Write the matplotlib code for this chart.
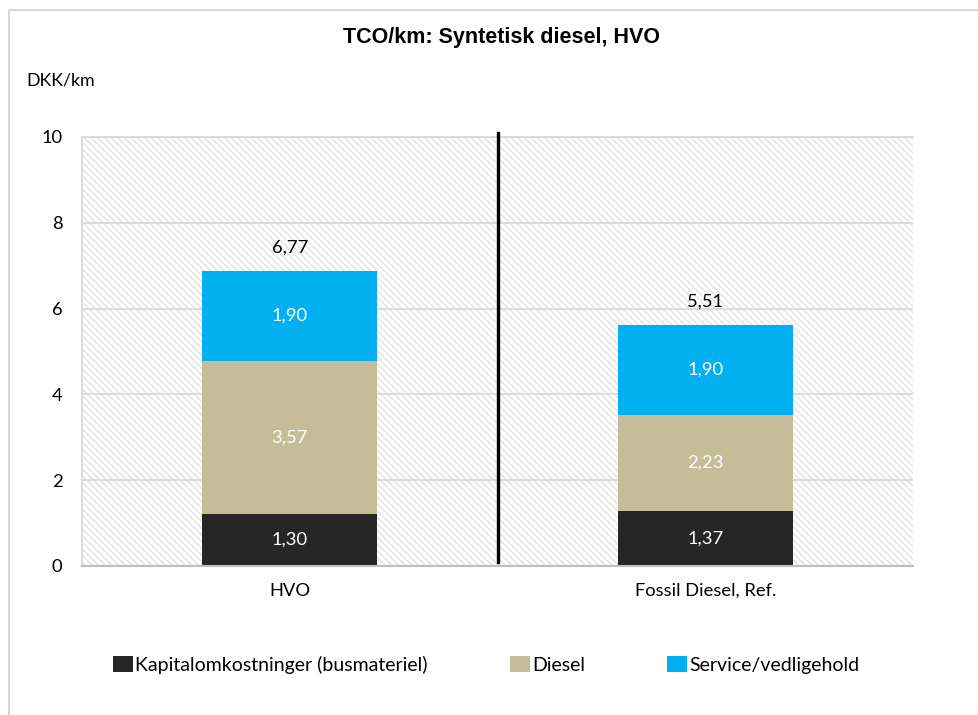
import matplotlib
matplotlib.use("Agg")
import matplotlib.pyplot as plt
from matplotlib.patches import Rectangle
from matplotlib.lines import Line2D
import numpy as np

# ---- data ----
categories = ["HVO", "Fossil Diesel, Ref."]
series_names = ["Kapitalomkostninger (busmateriel)", "Diesel", "Service/vedligehold"]
capital = [1.21, 1.28]        # drawn heights
diesel = [3.57, 2.24]
service = [2.10, 2.10]
capital_labels = [1.30, 1.37]  # printed values
diesel_labels = [3.57, 2.23]
service_labels = [1.90, 1.90]
total_labels = [6.77, 5.51]
yticks = [0, 2, 4, 6, 8, 10]

colors = ["#262626", "#c4bd97", "#00b0f0"]

plt.rcParams["hatch.linewidth"] = 1.2
FONT = "Lato"

W, H = 979, 715
fig = plt.figure(figsize=(W / 100, H / 100), dpi=100)
ax = fig.add_axes([82 / W, 1 - 566 / H, (913 - 82) / W, (566 - 137) / H])

# hatched background
bg = Rectangle((0, 0), 1, 1, transform=ax.transAxes, facecolor="white",
               edgecolor="#e6e6e6", hatch="\\\\\\\\\\", lw=0, zorder=0)
ax.add_patch(bg)
ax.patch.set_visible(False)

x = np.arange(len(categories))
width = 0.42
bottoms = np.zeros(len(categories))
values = [capital, diesel, service]
labels = [capital_labels, diesel_labels, service_labels]
for vals, labs, c, name in zip(values, labels, colors, series_names):
    vals = np.array(vals)
    ax.bar(x, vals, width, bottom=bottoms, color=c, label=name, zorder=2)
    for xi, b, v, lab in zip(x, bottoms, vals, labs):
        ax.text(xi, b + v / 2, f"{lab:.2f}".replace(".", ","), ha="center",
                va="center", color="white", fontsize=13.2, family=FONT, zorder=3)
    bottoms = bottoms + vals

for xi, top, lab in zip(x, bottoms, total_labels):
    ax.annotate(f"{lab:.2f}".replace(".", ","), (xi, top), xytext=(0, 17),
                textcoords="offset points", ha="center", va="center",
                fontsize=13.2, family=FONT, color="black")

# divider
ax.axvline(0.5, ymin=0.01, ymax=1.01, color="black", lw=2.4, clip_on=False, zorder=4)

ax.set_xlim(-0.5, 1.5)
ax.set_ylim(0, 10)
ax.set_yticks(yticks)
ax.set_yticklabels([str(t) for t in yticks])
ax.set_xticks(x)
ax.set_xticklabels(categories)
ax.tick_params(axis="both", length=0, labelsize=13.2)
ax.tick_params(axis="y", pad=14)
ax.tick_params(axis="x", pad=12)
for lbl in ax.get_xticklabels() + ax.get_yticklabels():
    lbl.set_family(FONT)

ax.set_axisbelow(True)
ax.yaxis.grid(True, color="#d9d9d9", lw=1.3, zorder=1)
ax.spines["right"].set_visible(False)
ax.spines["top"].set_color("#d9d9d9")
ax.spines["left"].set_color("#d9d9d9")
ax.spines["left"].set_linewidth(1.3)
ax.spines["top"].set_linewidth(1.3)
ax.spines["bottom"].set_color("#bfbfbf")
ax.spines["bottom"].set_linewidth(1.5)

# texts
fig.text(502 / W, 1 - 37 / H, "TCO/km: Syntetisk diesel, HVO", ha="center",
         va="center", fontsize=15.5, fontweight="bold", family="Liberation Sans")
fig.text(26 / W, 1 - 80 / H, "DKK/km", ha="left", va="center", fontsize=12.8,
         family=FONT)

# outer frame (left and top)
fig.add_artist(Line2D([9 / W, 9 / W], [1 - 10 / H, 0], transform=fig.transFigure,
                      color="#d9d9d9", lw=1.5))
fig.add_artist(Line2D([9 / W, 1], [1 - 10 / H, 1 - 10 / H], transform=fig.transFigure,
                      color="#d9d9d9", lw=1.5))

handles = [Rectangle((0, 0), 1, 1, facecolor=c, edgecolor="none") for c in colors]
fig.legend(handles, series_names, loc="center", bbox_to_anchor=(486 / W, 1 - 665 / H),
           ncol=3, frameon=False, prop={"family": FONT, "size": 14},
           handlelength=1.05, handleheight=0.9, handletextpad=0.1,
           columnspacing=4.2)

fig.savefig("out.png", dpi=100)
